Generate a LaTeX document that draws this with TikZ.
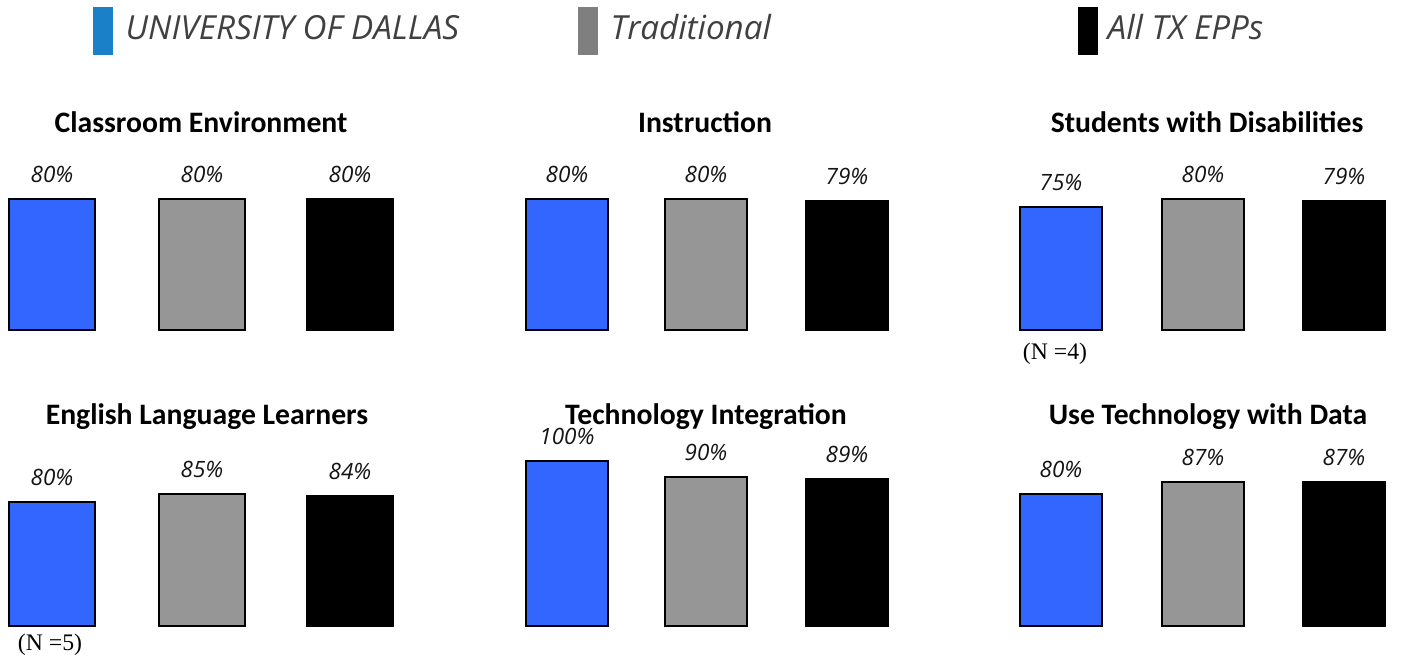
\documentclass[tikz,border=0pt]{standalone}
\usepackage{fontspec}
\setmainfont{Open Sans}
\newfontfamily\titlefont{Carlito}
\newfontfamily\notefont{Liberation Serif}
\usetikzlibrary{positioning}
\definecolor{udblue}{HTML}{1A80C8}
\definecolor{barblue}{HTML}{3366FF}
\definecolor{bargray}{HTML}{969696}
\definecolor{keygray}{HTML}{7F7F7F}
\definecolor{textgray}{HTML}{404040}

\tikzset{
  bar/.style={rectangle, draw=black, line width=1.1pt, inner sep=0pt, anchor=south west},
  pct/.style={font=\itshape\fontsize{12.8}{15}\selectfont, text=black!92, inner sep=0pt},
  charttitle/.style={font=\titlefont\bfseries\fontsize{16.9}{20}\selectfont, inner sep=0pt},
  key/.style={rectangle, minimum width=0.4cm, minimum height=0.96cm, inner sep=0pt},
  keytext/.style={font=\itshape\fontsize{18.9}{22}\selectfont, text=textgray, inner sep=0pt, yshift=0.07cm},
  note/.style={font=\notefont\fontsize{13.5}{16}\selectfont, inner sep=0pt}
}

\begin{document}
\begin{tikzpicture}[x=0.02cm, y=-0.02cm]
\useasboundingbox (0,0) rectangle (1404,658);

% Legend
\node (keyUD) [key, fill=udblue] at (103,31) {};
\node (keyUDtext) [keytext, right=0.24cm of keyUD] {UNIVERSITY OF DALLAS};
\node (keyTR) [key, fill=keygray] at (588,31) {};
\node (keyTRtext) [keytext, right=0.24cm of keyTR] {Traditional};
\node (keyTX) [key, fill=black] at (1088,31) {};
\node (keyTXtext) [keytext, right=0.18cm of keyTX] {All TX EPPs};

% Classroom Environment
\node (ceT) [charttitle] at (201,122) {Classroom Environment};
\foreach \n/\x/\t/\v/\c in {1/8/200/80/barblue, 2/158/200/80/bargray, 3/306/200/80/black}{
  \node (ce\n) [bar, fill=\c, minimum width=1.72cm, minimum height={(331-\t)*0.02cm}] at (\x,331) {};
  \node (ce\n-v) [pct] at ([yshift=0.48cm]ce\n.north) {\v\%};
}

% Instruction
\node (inT) [charttitle] at (705,122) {Instruction};
\foreach \n/\x/\t/\v/\c in {1/525/200/80/barblue, 2/664/200/80/bargray, 3/805/202/79/black}{
  \node (in\n) [bar, fill=\c, minimum width=1.64cm, minimum height={(331-\t)*0.02cm}] at (\x,331) {};
  \node (in\n-v) [pct] at ([yshift=0.48cm]in\n.north) {\v\%};
}

% Students with Disabilities
\node (sdT) [charttitle] at (1207,122) {Students with Disabilities};
\foreach \n/\x/\t/\v/\c in {1/1019/208/75/barblue, 2/1161/200/80/bargray, 3/1302/202/79/black}{
  \node (sd\n) [bar, fill=\c, minimum width=1.64cm, minimum height={(331-\t)*0.02cm}] at (\x,331) {};
  \node (sd\n-v) [pct] at ([yshift=0.48cm]sd\n.north) {\v\%};
}
\node (sdN) [note] at (1055,354) {(N =4)};

% English Language Learners
\node (elT) [charttitle] at (207,417) {English Language Learners};
\foreach \n/\x/\t/\v/\c in {1/8/503/80/barblue, 2/158/495/85/bargray, 3/306/497/84/black}{
  \node (el\n) [bar, fill=\c, minimum width=1.72cm, minimum height={(627-\t)*0.02cm}] at (\x,627) {};
  \node (el\n-v) [pct] at ([yshift=0.48cm]el\n.north) {\v\%};
}
\node (elN) [note] at (50,645) {(N =5)};

% Technology Integration
\node (tiT) [charttitle] at (706,417) {Technology Integration};
\foreach \n/\x/\t/\v/\c in {1/525/462/100/barblue, 2/664/478/90/bargray, 3/805/480/89/black}{
  \node (ti\n) [bar, fill=\c, minimum width=1.64cm, minimum height={(627-\t)*0.02cm}] at (\x,627) {};
  \node (ti\n-v) [pct] at ([yshift=0.48cm]ti\n.north) {\v\%};
}

% Use Technology with Data
\node (udT) [charttitle] at (1208,417) {Use Technology with Data};
\foreach \n/\x/\t/\v/\c in {1/1019/495/80/barblue, 2/1161/483/87/bargray, 3/1302/483/87/black}{
  \node (ud\n) [bar, fill=\c, minimum width=1.64cm, minimum height={(627-\t)*0.02cm}] at (\x,627) {};
  \node (ud\n-v) [pct] at ([yshift=0.48cm]ud\n.north) {\v\%};
}

\end{tikzpicture}
\end{document}
